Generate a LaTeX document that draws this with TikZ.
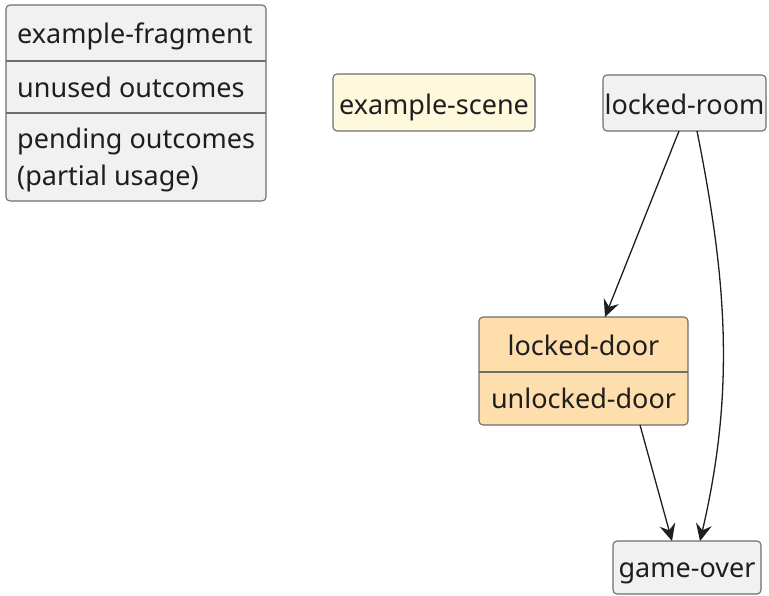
\documentclass[tikz,border=0pt]{standalone}
\usepackage{fontspec}
\setmainfont{Noto Sans}
\usetikzlibrary{arrows.meta}
\definecolor{boxgray}{HTML}{F1F1F1}
\definecolor{boxline}{HTML}{6E6E6E}
\definecolor{scenefill}{HTML}{FEF8DD}
\definecolor{doorfill}{HTML}{FFDEAD}
\definecolor{txt}{HTML}{1E1E1E}
\begin{document}
\begin{tikzpicture}[x=1pt,y=-1pt,
  box/.style={draw=boxline, line width=1.1pt, rounded corners=4pt, fill=boxgray, inner sep=0pt, outer sep=0pt},
  sep/.style={draw=boxline, line width=1.1pt},
  lbl/.style={font=\fontsize{27}{32}\selectfont, inner sep=0pt, text=txt},
  conn/.style={-{Stealth[length=17pt,width=16pt,inset=6pt]}, line width=1.3pt, draw=txt}]
\useasboundingbox (0,0) rectangle (769,595);
% example-fragment
\node[box, minimum width=260pt, minimum height=196pt, anchor=north west] (frag) at (6,5) {};
\draw[sep] (6,61) -- (266,61);
\draw[sep] (6,113) -- (266,113);
\node[lbl, anchor=base west] (fragt) at (17,43) {example-fragment};
\node[lbl, anchor=base west] (fragu) at (17,97) {unused outcomes};
\node[lbl, anchor=base west] (fragp) at (17,148) {pending outcomes};
\node[lbl, anchor=base west] (fragq) at (17,185) {(partial usage)};
% example-scene
\node[box, fill=scenefill, minimum width=202pt, minimum height=57pt, anchor=north west] (sc) at (333,74) {};
\node[lbl, anchor=base] (sct) at (434,114) {example-scene};
% locked-room
\node[box, minimum width=163pt, minimum height=56pt, anchor=north west] (lr) at (603,75) {};
\node[lbl, anchor=base] (lrt) at (684.5,114) {locked-room};
% locked-door
\node[box, fill=doorfill, minimum width=209pt, minimum height=108pt, anchor=north west] (ld) at (479,317) {};
\draw[sep] (479,372) -- (688,372);
\node[lbl, anchor=base] (ldt) at (583.5,355) {locked-door};
\node[lbl, anchor=base] (ldu) at (583.5,408) {unlocked-door};
% game-over
\node[box, minimum width=148pt, minimum height=53pt, anchor=north west] (go) at (613,541) {};
\node[lbl, anchor=base] (got) at (687,577) {game-over};
% connectors
\draw[conn] ([xshift=-5.5pt]lr.south) -- ([xshift=21.5pt]ld.north);
\draw[conn] ([xshift=12.5pt]lr.south) .. controls +(30,150) and +(35,-150) .. ([xshift=13pt]go.north);
\draw[conn] ([xshift=56.5pt]ld.south) -- ([xshift=-15pt]go.north);
\end{tikzpicture}
\end{document}
